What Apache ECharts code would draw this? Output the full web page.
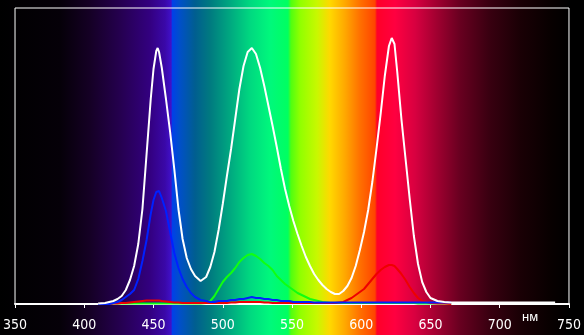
<!DOCTYPE html>
<html>
<head>
<meta charset="utf-8">
<script src="https://cdn.jsdelivr.net/npm/echarts@6/dist/echarts.min.js"></script>
<style>
html,body{margin:0;padding:0;background:#000;}
#chart{width:584px;height:335px;}
</style>
</head>
<body>
<div id="chart"></div>
<script>
// wavelengths, nm
var wavelengths = [410,415,418,421,424,427,430,433,436,439,442,445,448,450,452,453,454,456,459,462,465,468,471,474,477,480,484,488,491,494,497,500,503,506,509,512,515,518,521,524,527,530,533,536,539,542,545,548,551,554,557,560,563,566,569,572,575,578,581,584,587,590,593,596,599,602,605,608,611,614,617,620,622,623,624,626,629,632,635,638,641,644,647,650,655,660,665,670,680,690,700,710,720,730,740];
// white spectrum
var whiteValues = [0.5,1,2,3,5,8,14,24,38,60,95,150,205,235,253,256,252,236,205,172,135,95,65,46,35,28,23,27,37,52,74,100,128,155,185,215,238,252,256,250,236,218,198,178,157,135,115,98,83,70,58,47,38,30,24,19,15,12,10,10,13,18,26,38,54,72,94,122,155,190,228,258,266,267,260,232,185,145,105,68,40,22,12,6,3,2,1.5,1.5,1.5,1.5,1.5,1.5,1.5,1.5,1.5];
// blue field
var blueValues = [0,0,0,1,2,4,7,10,14,25,43,64,90,104,112,114,113,106,93,72,51,36,25,17,11,7,4,3,2,2,3,3,3,4,4,5,5,6,7,6,6,5,5,4,4,3,3,3,2,2,2,2,2,1.5,1.5,1.5,1.5,1.5,1.5,1.5,1.5,1.5,1.5,1.5,1.5,1.5,1.5,1.5,1.5,1.5,1.5,1.5,1.5,1.5,1.5,1.5,1.5,1.5,1.5,1.5,1.5,1.5,1.5,1.5,1.5,1.5,1.5,null,null,null,null,null,null,null,null];
// green field
var greenValues = [0,0,0,0.5,0.5,0.5,0.5,0.5,0.5,0.5,0.5,0.5,0.5,0.5,0.5,0.5,0.5,0.5,0.5,0.5,0.5,0.5,0.5,0.5,0.5,0.5,0.5,1,3,8,15,22,27,31,36,42,46,49,50,48,45,41,38,34,28,24,20,17,14,11,9,7,5,4,3,2,1.5,1,1,1,1,1,1,1,1,1,1,1,1,1,1,1,1,1,1,1,1,1,1,1,0.5,0.5,0.5,0.5,0.5,0.5,0.5,null,null,null,null,null,null,null,null];
// red field
var redValues = [0,0,0,0.5,0.5,1,1,1.5,2,2.5,3,3.5,3.5,3.5,3.5,3.5,3.5,3,2.5,2,1.5,1.5,1,1,1,1,1,1,1,1,1,1,1,1.5,1.5,2,2,2,2,2,2,1.5,1.5,1,1,1,1,1,1,1,1,1,1,1,1,1,1,1,1,1.5,2,4,6,9,12,15,20,25,30,34,37,39,39,39,38,35,30,24,17,11,6,3,2,1,0.5,0.5,0,null,null,null,null,null,null,null,null];
var xTicks = [350,400,450,500,550,600,650,700,750];
var unitLabel = 'нм';

function pairs(vals){
  var out = [];
  for (var i=0;i<wavelengths.length;i++){ if (vals[i]!==null) out.push([wavelengths[i], vals[i]]); }
  return out;
}

var chart = echarts.init(document.getElementById('chart'), null, {renderer:'canvas'});
var W = 584;
function st(px, c){ return {offset: px/W, color: c}; }
var bg = new echarts.graphic.LinearGradient(0,0,1,0,[
  st(0,'#000000'), st(60,'#050008'), st(90,'#150025'), st(120,'#25004f'), st(150,'#330080'),
  st(165,'#3a08a8'), st(171,'#4010c8'), st(172.5,'#0040e8'), st(180,'#0050c8'), st(195,'#005e90'),
  st(210,'#007a80'), st(230,'#00a880'), st(250,'#00d880'), st(270,'#00f87c'), st(288,'#00ff60'),
  st(291,'#50ff10'), st(300,'#90ff00'), st(317,'#c8f800'), st(330,'#ffd800'), st(345,'#ffa800'),
  st(360,'#ff7000'), st(375,'#ff4400'), st(377,'#ff0028'), st(395,'#ff0040'), st(415,'#d80040'),
  st(437,'#a00030'), st(460,'#680020'), st(490,'#380010'), st(520,'#1a0005'), st(550,'#080000'),
  st(569,'#000000'), st(584,'#000000')
]);

function line(name, vals, color, z){
  return {name:name, type:'line', data:pairs(vals), showSymbol:false, symbol:'none', smooth:false,
    z:z, lineStyle:{color:color, width:2}, itemStyle:{color:color}, animation:false};
}

chart.setOption({
  animation:false,
  backgroundColor: bg,
  grid:{left:14, right:15, top:8, bottom:31, show:true, borderColor:'#ffffff', borderWidth:1, backgroundColor:'transparent'},
  xAxis:{type:'value', min:350, max:750, interval:50,
    axisLine:{show:true, onZero:false, lineStyle:{color:'#ffffff', width:2}},
    axisTick:{show:true, length:4, lineStyle:{color:'#ffffff', width:1}},
    axisLabel:{color:'#ffffff', fontSize:14, fontFamily:'"Liberation Sans Narrow","DejaVu Sans Condensed",sans-serif', margin:14,
      formatter:function(v){ return xTicks.indexOf(v)>=0 ? String(v) : ''; }},
    splitLine:{show:false}},
  yAxis:{type:'value', min:0, max:296, show:false, splitLine:{show:false}},
  graphic:[{type:'text', left:522, top:311, style:{text:unitLabel, fill:'#ffffff', font:'13px "Liberation Sans", sans-serif'}}],
  series:[
    line('green', greenValues, '#10ff10', 2),
    line('red', redValues, '#ee0000', 3),
    line('blue', blueValues, '#0020ff', 4),
    line('white', whiteValues, '#ffffff', 5)
  ]
});
</script>
</body>
</html>
